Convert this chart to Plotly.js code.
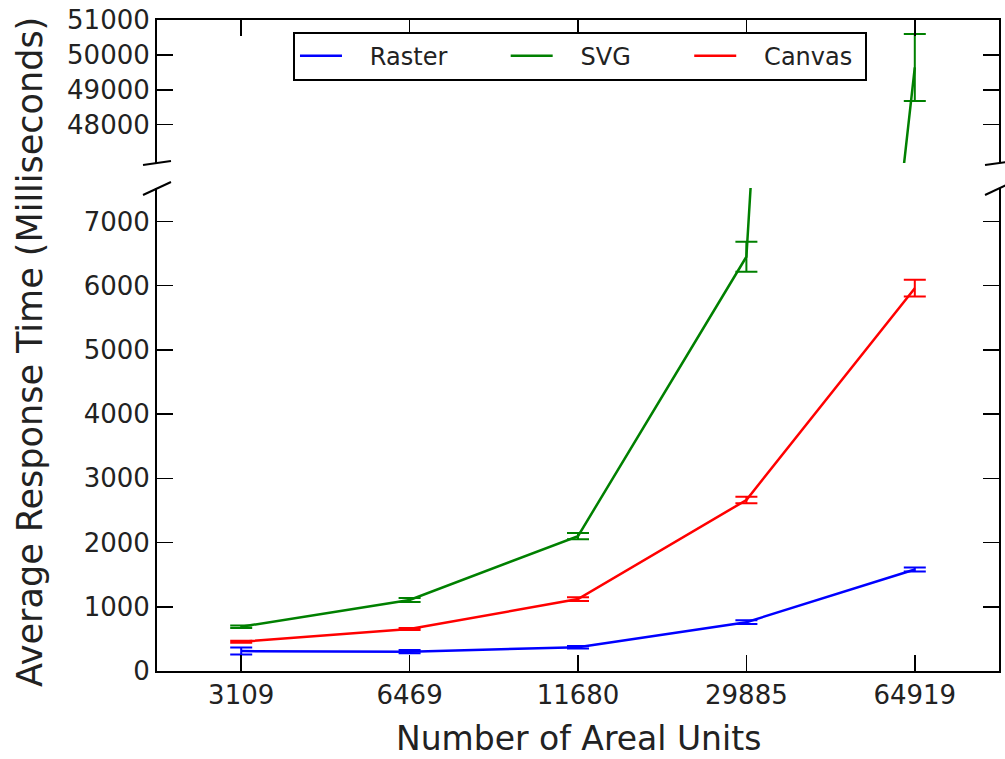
<!DOCTYPE html>
<html>
<head>
<meta charset="utf-8">
<script src="https://cdn.plot.ly/plotly-3.0.1.min.js"></script>
<style>html,body{margin:0;padding:0;background:#fff;}#chart{width:1005px;height:759px;}</style>
</head>
<body>
<div id="chart"></div>
<script>
// ---- data ----
const categories = ['3109', '6469', '11680', '29885', '64919'];
const seriesNames = ['Raster', 'SVG', 'Canvas'];
const rasterValues = [310, 300, 370, 760, 1580];
const rasterErrors = [55, 25, 20, 30, 30];
const svgValues = [690, 1106, 2100, 6450, 49640];
const svgErrors = [20, 30, 50, 235, 960];
const canvasValues = [455, 654, 1120, 2663, 5960];
const canvasErrors = [15, 15, 30, 50, 130];
const bottomTicks = [0, 1000, 2000, 3000, 4000, 5000, 6000, 7000];
const topTicks = [48000, 49000, 50000, 51000];

const NB = '\u00a0';
const lead = NB.repeat(3);
const trail = NB.repeat(7);
const series = [
  {name: lead + seriesNames[0] + trail, y: rasterValues, e: rasterErrors, color: '#0000ff'},
  {name: lead + seriesNames[1] + trail, y: svgValues, e: svgErrors, color: '#008000'},
  {name: lead + seriesNames[2] + NB, y: canvasValues, e: canvasErrors, color: '#ff0000'}
];

const traces = [];
series.forEach(s => {
  const base = {
    x: categories, y: s.y, mode: 'lines', name: s.name,
    line: {color: s.color, width: 2.5},
    error_y: {type: 'data', array: s.e, visible: true, color: s.color, thickness: 2, width: 11}
  };
  traces.push(Object.assign({}, base, {xaxis: 'x', yaxis: 'y', showlegend: true}));
  traces.push(Object.assign({}, base, {xaxis: 'x2', yaxis: 'y2', showlegend: false}));
});

const font = {family: 'DejaVu Sans', size: 26, color: '#222'};
const axCommon = {
  showgrid: false, zeroline: false, showline: true, linecolor: '#000', linewidth: 2,
  ticks: 'inside', ticklen: 16, tickwidth: 1.5, tickcolor: '#000', tickfont: font,
  tickformat: 'd'
};

const d = 0.0166;
const brk = (x0, y0, x1, y1) => ({type: 'line', xref: 'paper', yref: 'paper', x0, y0, x1, y1,
  line: {color: '#000', width: 2}});

const layout = {
  width: 1005, height: 759,
  margin: {l: 157, r: 6, t: 20, b: 88},
  paper_bgcolor: '#fff', plot_bgcolor: '#fff',
  font: font,
  showlegend: true,
  legend: {
    orientation: 'h', x: 0.1615, y: 0.982, xanchor: 'left', yanchor: 'top',
    bordercolor: '#000', borderwidth: 2, bgcolor: '#fff',
    font: {family: 'DejaVu Sans', size: 24, color: '#222'},
    itemwidth: 42
  },
  xaxis: Object.assign({}, axCommon, {
    type: 'category', range: [-0.5, 4.5], anchor: 'y', domain: [0, 1], mirror: false
  }),
  xaxis2: Object.assign({}, axCommon, {
    type: 'category', range: [-0.5, 4.5], anchor: 'y2', side: 'top', matches: 'x',
    showticklabels: false, mirror: false
  }),
  yaxis: Object.assign({}, axCommon, {
    domain: [0, 0.7419], range: [0, 7520], tickvals: bottomTicks, mirror: 'ticks', anchor: 'x'
  }),
  yaxis2: Object.assign({}, axCommon, {
    domain: [0.7803, 1], range: [46900, 51000], tickvals: topTicks, mirror: 'ticks', anchor: 'x2'
  }),
  annotations: [
    {text: 'Average Response Time (Milliseconds)', xref: 'paper', yref: 'paper',
     x: -0.1508, y: 0.49, xanchor: 'center', yanchor: 'middle', textangle: -90,
     showarrow: false, font: {family: 'DejaVu Sans', size: 35, color: '#222'}},
    {text: 'Number of Areal Units', xref: 'paper', yref: 'paper',
     x: 0.5, y: -0.104, xanchor: 'center', yanchor: 'middle',
     showarrow: false, font: {family: 'DejaVu Sans', size: 33, color: '#222'}}
  ],
  shapes: [
    brk(-d, 0.7773, d, 0.7834), brk(1 - d, 0.7773, 1 + d, 0.7834),
    brk(-d, 0.7312, d, 0.7512), brk(1 - d, 0.7312, 1 + d, 0.7512)
  ]
};

Plotly.newPlot('chart', traces, layout, {displayModeBar: false, staticPlot: true});
</script>
</body>
</html>
